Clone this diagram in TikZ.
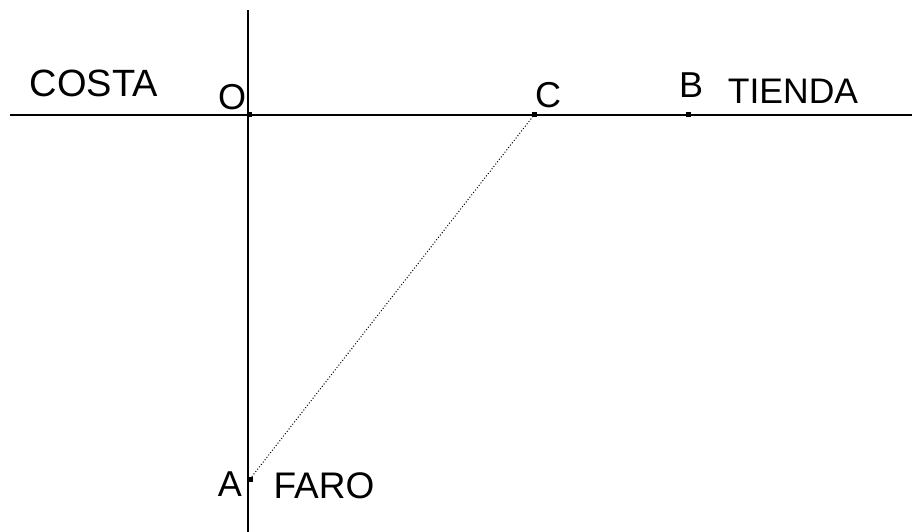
\documentclass[tikz,border=0pt]{standalone}
\usepackage{fontspec}
\setmainfont{Liberation Sans}
\begin{document}
\begin{tikzpicture}[x=1pt,y=-1pt,
  lbl/.style={inner sep=0pt,font=\fontsize{#1}{#1}\selectfont},
  lbl/.default=36,
  pt/.style={fill=black,inner sep=0pt,minimum size=5pt,rectangle},
  axis/.style={line width=1.4pt}]
\useasboundingbox (0,0) rectangle (912,532);
\coordinate (vt) at (248,10);
\coordinate (vb) at (248,532);
\coordinate (hl) at (10,115);
\coordinate (hr) at (912,115);
\node[pt] (O) at (249,115) {};
\node[pt] (C) at (534,115) {};
\node[pt] (B) at (688,115) {};
\node[pt] (A) at (250,479) {};
\draw[axis] (vt) -- (vb);
\draw[axis] (hl) -- (hr);
\draw[line width=2.2pt] (O.center) -- (C.center);
\draw[line width=1.8pt] (C.center) -- (B.center);
\draw[dotted,line width=1pt] (A.center) -- (C.center);
\node[lbl=38] (costa) at (94,83.5) {COSTA};
\node[lbl] (lo) at (232,97) {O};
\node[lbl] (lc) at (548,95) {C};
\node[lbl] (lb) at (691,85) {B};
\node[lbl=35.5] (tienda) at (793,91.5) {TIENDA};
\node[lbl] (la) at (230,484) {A};
\node[lbl=37] (faro) at (324,486) {FARO};
\end{tikzpicture}
\end{document}
